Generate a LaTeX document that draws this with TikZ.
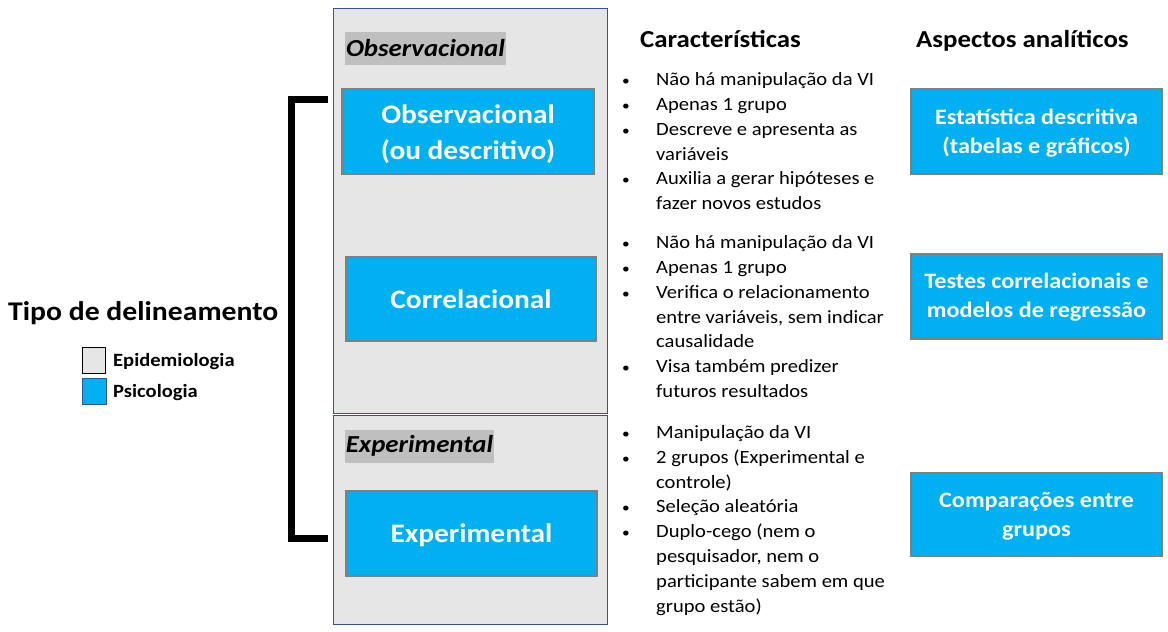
\documentclass[tikz,border=0pt]{standalone}
\usepackage{fontspec}
\setmainfont{Carlito}[FakeStretch=1.1]
\definecolor{pblue}{HTML}{00B0F0}
\definecolor{pgray}{HTML}{E6E6E6}
\definecolor{pedge}{HTML}{2F5597}
\definecolor{bedge}{HTML}{7F7F7F}
\definecolor{hl}{HTML}{BFBFBF}
\tikzset{
  panel/.style={draw=pedge, fill=pgray, line width=0.8pt, anchor=north west, inner sep=0},
  bluebox/.style={draw=bedge, fill=pblue, line width=1.2pt, inner sep=0},
  dtxt/.style={anchor=base, inner sep=0, text=white, font=\bfseries\fontsize{26.7}{36}\selectfont},
  atxt/.style={anchor=base, inner sep=0, text=white, font=\bfseries\fontsize{22}{28.5}\selectfont},
  txt/.style={anchor=base west, inner sep=0, font=\fontsize{18.7}{24}\selectfont},
  bul/.style={anchor=base, inner sep=0, font=\fontsize{14}{24}\selectfont},
  head/.style={anchor=base west, inner sep=0, font=\bfseries\fontsize{24.4}{28}\selectfont},
  tag/.style={fill=hl, inner xsep=1pt, inner ysep=0, minimum height=33, font=\bfseries\itshape\fontsize{24.4}{28}\selectfont},
  legtxt/.style={anchor=base west, inner sep=0, font=\bfseries\fontsize{18.7}{24}\selectfont},
}
\newcommand\myitem[3]{\node[bul] (b#1) at (626,#2) {•}; \node[txt] (t#1) at (656,#2) {#3};}
\newcommand\mycont[3]{\node[txt] (t#1) at (656,#2) {#3};}
\begin{document}
\begin{tikzpicture}[x=1pt,y=-1pt]
\useasboundingbox (0,0) rectangle (1168,632);
% panels
\node[panel, minimum width=274, minimum height=405] (p1) at (333,7.5) {};
\node[panel, minimum width=274, minimum height=209] (p2) at (333,415) {};
% tags
\node[tag] (tagobs) at (425.5,48.5) {Observacional};
\node[tag] (tagexp) at (419.5,446) {Experimental};
% design boxes
\node[bluebox, minimum width=252, minimum height=85] (obs) at (468,131.5) {};
\node[dtxt] (obs1) at (468,123.7) {Observacional};
\node[dtxt] (obs2) at (468,159.7) {(ou descritivo)};
\node[bluebox, minimum width=250, minimum height=84] (cor) at (471,299) {};
\node[dtxt] (cor1) at (471,308.5) {Correlacional};
\node[bluebox, minimum width=251, minimum height=85] (exp) at (471.5,533.5) {};
\node[dtxt] (exp1) at (471.5,542.5) {Experimental};
% bracket
\coordinate (bt) at (328,99.5);
\coordinate (bb) at (328,538.5);
\draw[line width=7pt, miter limit=10] (bt) -- (291.5,99.5) -- (291.5,538.5) -- (bb);
% title + legend
\node[anchor=base west, inner sep=0, font=\bfseries\fontsize{27}{34}\selectfont] (title) at (8,320) {Tipo de delineamento};
\node[draw=black, fill=pgray, line width=0.8pt, minimum width=23, minimum height=26, anchor=north west, inner sep=0] (lg1) at (82,347) {};
\node[draw=pedge, fill=pblue, line width=0.8pt, minimum width=24, minimum height=26, anchor=north west, inner sep=0] (lg2) at (82,378) {};
\node[legtxt] (lt1) at (113,366) {Epidemiologia};
\node[legtxt] (lt2) at (113,397) {Psicologia};
% headers
\node[head] (h1) at (640,47) {Características};
\node[head] (h2) at (916,47) {Aspectos analíticos};
% group 1
\myitem{a1}{85}{Não há manipulação da VI}
\myitem{a2}{110}{Apenas 1 grupo}
\myitem{a3}{135}{Descreve e apresenta as}
\mycont{a4}{160}{variáveis}
\myitem{a5}{184}{Auxilia a gerar hipóteses e}
\mycont{a6}{209}{fazer novos estudos}
% group 2
\myitem{c1}{248}{Não há manipulação da VI}
\myitem{c2}{273}{Apenas 1 grupo}
\myitem{c3}{298}{Verifica o relacionamento}
\mycont{c4}{323}{entre variáveis, sem indicar}
\mycont{c5}{347}{causalidade}
\myitem{c6}{372}{Visa também predizer}
\mycont{c7}{397}{futuros resultados}
% group 3
\myitem{e1}{438}{Manipulação da VI}
\myitem{e2}{463}{2 grupos (Experimental e}
\mycont{e3}{488}{controle)}
\myitem{e4}{512}{Seleção aleatória}
\myitem{e5}{537}{Duplo-cego (nem o}
\mycont{e6}{562}{pesquisador, nem o}
\mycont{e7}{587}{participante sabem em que}
\mycont{e8}{612}{grupo estão)}
% analysis boxes
\node[bluebox, minimum width=251, minimum height=85] (an1) at (1036.5,131.5) {};
\node[atxt] (an1a) at (1036.5,124.7) {Estatística descritiva};
\node[atxt] (an1b) at (1036.5,153.2) {(tabelas e gráficos)};
\node[bluebox, minimum width=251, minimum height=85] (an2) at (1036.5,296.5) {};
\node[atxt] (an2a) at (1036.5,288.5) {Testes correlacionais e};
\node[atxt] (an2b) at (1036.5,317.5) {modelos de regressão};
\node[bluebox, minimum width=251, minimum height=84] (an3) at (1036.5,514.5) {};
\node[atxt] (an3a) at (1036.5,507.5) {Comparações entre};
\node[atxt] (an3b) at (1036.5,536) {grupos};
\end{tikzpicture}
\end{document}
